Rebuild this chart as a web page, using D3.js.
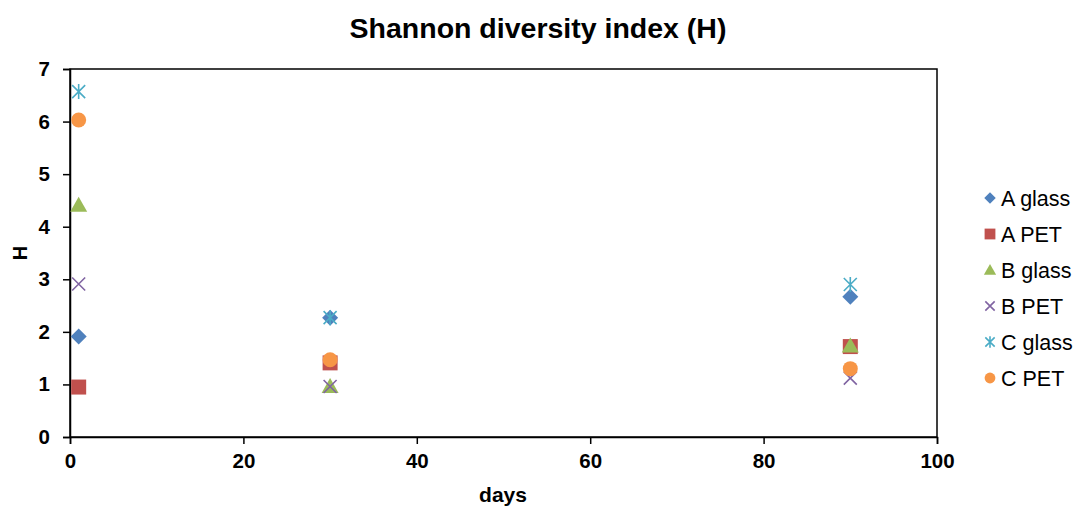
<!DOCTYPE html>
<html>
<head>
<meta charset="utf-8">
<script src="https://cdn.jsdelivr.net/npm/d3@7"></script>
<style>
  body { margin: 0; background: #fff; }
  text { font-family: "Liberation Sans", Arial, sans-serif; }
</style>
</head>
<body>
<div id="main"></div>
<script>
var days = [1, 30, 90];
var seriesNames = ["A glass", "A PET", "B glass", "B PET", "C glass", "C PET"];
var aGlass = [1.91, 2.27, 2.67];
var aPet = [0.95, 1.41, 1.72];
var bGlass = [4.41, 0.96, 1.73];
var bPet = [2.91, 0.96, 1.12];
var cGlass = [6.57, 2.27, 2.9];
var cPet = [6.03, 1.47, 1.3];
var xTicks = [0, 20, 40, 60, 80, 100];
var yTicks = [0, 1, 2, 3, 4, 5, 6, 7];

var series = [aGlass, aPet, bGlass, bPet, cGlass, cPet];
var colors = ["#4F81BD", "#C0504D", "#9BBB59", "#8064A2", "#4BACC6", "#F79646"];
var shapes = ["diamond", "square", "triangle", "x", "asterisk", "circle"];

var width = 1083, height = 510;
var margin = { left: 70, top: 69, right: 146, bottom: 73 };

var svg = d3.select('#main').append('svg')
  .attr('width', width).attr('height', height);

var x = d3.scaleLinear().domain([0, 100]).range([margin.left, width - margin.right]);
var y = d3.scaleLinear().domain([0, 7]).range([height - margin.bottom, margin.top]);

// frame
svg.append('rect')
  .attr('x', x(0)).attr('y', y(7))
  .attr('width', x(100) - x(0)).attr('height', y(0) - y(7))
  .attr('fill', 'none').attr('stroke', '#000').attr('stroke-width', 1.5);

var xAxis = svg.append('g')
  .attr('transform', 'translate(0,' + y(0) + ')')
  .call(d3.axisBottom(x).tickValues(xTicks).tickFormat(d3.format('d')).tickSize(7).tickPadding(9));
var yAxis = svg.append('g')
  .attr('transform', 'translate(' + x(0) + ',0)')
  .call(d3.axisLeft(y).tickValues(yTicks).tickFormat(d3.format('d')).tickSize(7).tickPadding(13));

[xAxis, yAxis].forEach(function(a) {
  a.select('.domain').attr('stroke', '#000').attr('stroke-width', 1.5);
  a.selectAll('.tick line').attr('stroke', '#000').attr('stroke-width', 1.5);
  a.selectAll('.tick text')
    .attr('font-family', '"Liberation Sans", Arial, sans-serif')
    .attr('font-size', 20.5).attr('font-weight', 'bold').attr('fill', '#000');
});

// marker renderer, k = size factor
function drawMarker(g, shape, color, cx, cy, k) {
  var s = 8 * k;
  if (shape === 'diamond') {
    g.append('path').attr('d', 'M' + cx + ',' + (cy - s) + 'L' + (cx + s) + ',' + cy + 'L' + cx + ',' + (cy + s) + 'L' + (cx - s) + ',' + cy + 'Z')
      .attr('fill', color);
  } else if (shape === 'square') {
    g.append('rect').attr('x', cx - 7.5 * k).attr('y', cy - 7.5 * k).attr('width', 15 * k).attr('height', 15 * k).attr('fill', color);
  } else if (shape === 'triangle') {
    g.append('path').attr('d', 'M' + cx + ',' + (cy - 8.5 * k) + 'L' + (cx + 8.5 * k) + ',' + (cy + 6.5 * k) + 'L' + (cx - 8.5 * k) + ',' + (cy + 6.5 * k) + 'Z')
      .attr('fill', color);
  } else if (shape === 'circle') {
    g.append('circle').attr('cx', cx).attr('cy', cy).attr('r', 7.5 * k).attr('fill', color);
  } else if (shape === 'x') {
    var a = 6.5 * k;
    g.append('path').attr('d', 'M' + (cx - a) + ',' + (cy - a) + 'L' + (cx + a) + ',' + (cy + a) + 'M' + (cx + a) + ',' + (cy - a) + 'L' + (cx - a) + ',' + (cy + a))
      .attr('stroke', color).attr('stroke-width', 1.6).attr('fill', 'none');
  } else if (shape === 'asterisk') {
    var b = 6.5 * k;
    g.append('path').attr('d', 'M' + (cx - b) + ',' + (cy - b) + 'L' + (cx + b) + ',' + (cy + b) + 'M' + (cx + b) + ',' + (cy - b) + 'L' + (cx - b) + ',' + (cy + b) + 'M' + cx + ',' + (cy - b - 1) + 'L' + cx + ',' + (cy + b + 1))
      .attr('stroke', color).attr('stroke-width', 1.6).attr('fill', 'none');
  }
}

var points = svg.append('g');
series.forEach(function(vals, si) {
  vals.forEach(function(v, i) {
    drawMarker(points, shapes[si], colors[si], x(days[i]), y(v), 1);
  });
});

// title and axis labels
svg.append('text')
  .attr('x', 538).attr('y', 38).attr('text-anchor', 'middle')
  .attr('font-family', 'Lato, sans-serif')
  .attr('font-size', 28.5).attr('font-weight', 'bold').text('Shannon diversity index (H)');
svg.append('text')
  .attr('x', 503).attr('y', 502).attr('text-anchor', 'middle')
  .attr('font-size', 21).attr('font-weight', 'bold').text('days');
svg.append('text')
  .attr('transform', 'translate(27,' + ((y(0) + y(7)) / 2) + ') rotate(-90)')
  .attr('text-anchor', 'middle')
  .attr('font-size', 20).attr('font-weight', 'bold').text('H');

// legend
var legend = svg.append('g');
seriesNames.forEach(function(name, i) {
  var ly = 198 + i * 36;
  drawMarker(legend, shapes[i], colors[i], 990, ly, 0.72);
  legend.append('text').attr('x', 1001).attr('y', ly + 8)
    .attr('font-size', 21.5).attr('fill', '#000').text(name);
});
</script>
</body>
</html>
